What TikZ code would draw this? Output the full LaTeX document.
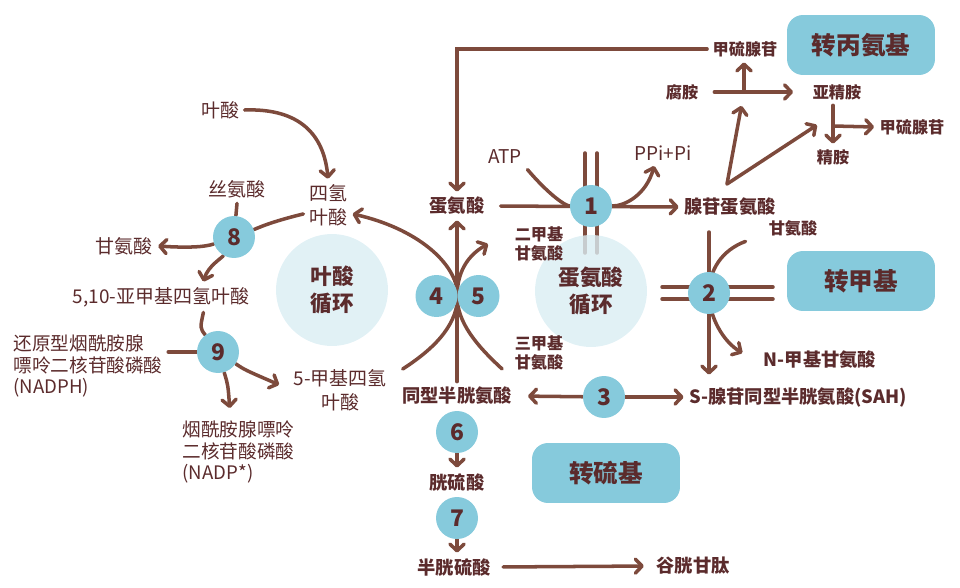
\documentclass[tikz,border=0pt]{standalone}
\usepackage{fontspec}
\setmainfont{Noto Sans CJK SC}
\usetikzlibrary{arrows.meta}
\pgfdeclarelayer{lines}
\pgfsetlayers{lines,main}
\definecolor{arrowbrown}{HTML}{7D4A3C}
\definecolor{textred}{HTML}{5B2B2C}
\definecolor{enzblue}{HTML}{86CADC}
\definecolor{cycleblue}{HTML}{DAEDF3}
\tikzset{
  flow/.style={line width=2pt, draw=arrowbrown, line cap=round},
  arr/.style={flow, -{Straight Barb[length=3.8pt,width=8pt,line cap=round,line join=round]}},
  lbl/.style={text=textred, align=center, inner sep=3pt, font=\fontsize{10.8}{13.5}\selectfont},
  blbl/.style={lbl, font=\fontsize{10.4}{12.5}\selectfont\bfseries},
  sbl/.style={lbl, font=\fontsize{9.2}{11}\selectfont\bfseries},
  enz/.style={circle, fill=enzblue, minimum size=0.84cm, inner sep=0pt, text=textred, font=\fontsize{13}{15}\selectfont\bfseries},
  cyc/.style={circle, fill=cycleblue, fill opacity=0.8, text opacity=1, minimum size=2.24cm, text=textred, align=center, font=\fontsize{12.3}{15}\selectfont\bfseries},
  grp/.style={rounded corners=0.32cm, fill=enzblue, minimum width=2.96cm, minimum height=1.2cm, text=textred, font=\fontsize{14}{16}\selectfont\bfseries}
}
\begin{document}
\begin{tikzpicture}[x=0.02cm, y=-0.02cm]
\useasboundingbox (0,0) rectangle (960,588);

\node[cyc] (folcyc) at (332,290) {叶酸\\循环};
\node[cyc] (metcyc) at (591,291) {蛋氨酸\\循环};

\node[grp] (trAmino) at (861,45) {转丙氨基};
\node[grp] (trMethyl) at (861,281) {转甲基};
\node[grp] (trSulf) at (606,473) {转硫基};

\node[lbl] (folate) at (220,110) {叶酸};
\node[lbl] (thf) at (328,205) {四氢\\叶酸};
\node[lbl] (ser) at (237,189) {丝氨酸};
\node[lbl] (glyL) at (124,246) {甘氨酸};
\node[lbl] (mthf) at (161,297) {5,10-亚甲基四氢叶酸};
\node[lbl, anchor=west, align=left, font=\fontsize{10.6}{12.3}\selectfont] (nadph) at (8,366) {还原型烟酰胺腺\\嘌呤二核苷酸磷酸\\(NADPH)};
\node[lbl] (mefolate) at (340,390) {5-甲基四氢\\叶酸};
\node[lbl, anchor=west, align=left, font=\fontsize{10.6}{12.3}\selectfont] (nadp) at (177,452) {烟酰胺腺嘌呤\\二核苷酸磷酸\\(NADP*)};
\node[lbl] (atp) at (505,157) {ATP};
\node[lbl] (ppi) at (663,153) {PPi+Pi};

\node[blbl] (met) at (457,206) {蛋氨酸};
\node[blbl] (hcy) at (457,396) {同型半胱氨酸};
\node[sbl] (dmg) at (539,244) {二甲基\\甘氨酸};
\node[sbl] (tmg) at (539,353) {三甲基\\甘氨酸};
\node[blbl] (sam) at (730,207) {腺苷蛋氨酸};
\node[sbl] (glyR) at (793,228) {甘氨酸};
\node[blbl] (nmg) at (820,360) {N-甲基甘氨酸};
\node[blbl] (sah) at (798,397) {S-腺苷同型半胱氨酸(SAH)};
\node[sbl] (mtaT) at (745,49) {甲硫腺苷};
\node[sbl] (put) at (682,92) {腐胺};
\node[sbl] (spd) at (837,92) {亚精胺};
\node[sbl] (mtaR) at (912,127) {甲硫腺苷};
\node[sbl] (spm) at (833,157) {精胺};
\node[blbl] (cysth) at (457,482) {胱硫酸};
\node[blbl] (cys) at (454,567) {半胱硫酸};
\node[blbl] (gsh) at (693,566) {谷胱甘肽};

\node[enz] (e1) at (591,206) {1};
\node[enz] (e2) at (709,293) {2};
\node[enz] (e3) at (604,397) {3};
\node[enz] (e4) at (436.5,296) {4};
\node[enz] (e5) at (478.5,296) {5};
\node[enz] (e6) at (457,432) {6};
\node[enz] (e7) at (457,518) {7};
\node[enz] (e8) at (234,237) {8};
\node[enz] (e9) at (218,352) {9};

\coordinate (putfork) at (744,92);
\coordinate (samfork) at (727,184);
\coordinate (spdin) at (817,125);
\coordinate (spdfork) at (833,126);

\begin{pgfonlayer}{lines}
\draw[arr] (folate.east) .. controls (300,108) and (324,135) .. (thf.north);
\draw[flow] (ser.south) -- (e8);
\draw[flow] (thf.200) .. controls (270,222) and (258,228) .. (e8);
\draw[arr] (e8) .. controls (205,247) and (188,248) .. (glyL.east);
\draw[arr] (e8) .. controls (222,258) and (208,266) .. (mthf.20);
\draw[flow] (mthf.-20) .. controls (200,328) .. (e9);
\draw[flow] (nadph.east |- e9) -- (e9);
\draw[arr] (e9) .. controls (245,370) .. ([xshift=-5pt,yshift=3pt]mefolate.west);
\draw[arr] (e9) .. controls (228,385) .. ([xshift=-5pt,yshift=4pt]nadp.north);

\draw[arr] ([xshift=6pt,yshift=-3pt]mefolate.north east) .. controls (440,345) and (457,322) .. (e4.east) .. controls (457,262) and (415,228) .. (thf.-20);
\draw[arr] ([xshift=-4pt,yshift=4pt]tmg.south west) .. controls (476,345) and (457,322) .. (e5.west) .. controls (457,272) and (468,255) .. ([xshift=-12pt]dmg.west);
\draw[arr] (hcy.north) -- (met.south);
\draw[arr] (mtaT.west) -| (met.north);

\draw[arr, shorten <=6pt] (met.east) -- (sam.west);
\foreach \dx in {-6,6}
  \draw[flow] (e1) ++(\dx,-53) -- ++(0,100);
\draw[flow] (atp.south east) .. controls (550,196) and (566,206) .. (e1);
\draw[arr] (e1) .. controls (625,206) and (646,195) .. ([xshift=-5pt]ppi.south);

\foreach \dy in {-6,6}
  \draw[flow] (e2) ++(-47,\dy) -- ++(111,0);
\draw[arr, shorten <=6pt, shorten >=4pt] (e2 |- sam.south) -- (e2 |- sah.north);
\draw[arr] ([xshift=-10pt]glyR.south west) .. controls (722,250) and (709,270) .. (e2.center) .. controls (709,318) and (724,342) .. ([xshift=-9pt,yshift=4pt]nmg.west);

\draw[arr, shorten >=6pt] (e3) -- (hcy.east);
\draw[arr] (e3) -- (sah.west);

\draw[arr] (e6) -- (cysth.north);
\draw[arr] (e7) -- (e7 |- cys.north);
\draw[arr, shorten <=4pt, shorten >=4pt] (cys.east) -- (gsh.west);

\draw[arr, shorten <=6pt, shorten >=8pt] (put.east) -- (spd.west);
\draw[arr] (putfork) -- (putfork |- mtaT.south);
\draw[arr, shorten >=8pt] (samfork) -- (putfork);
\draw[arr] (samfork) -- (spdin);
\draw[arr] (spd.south -| spdfork) -- (spm.north -| spdfork);
\draw[arr] (spdfork) -- (mtaR.west);
\end{pgfonlayer}
\end{tikzpicture}
\end{document}
